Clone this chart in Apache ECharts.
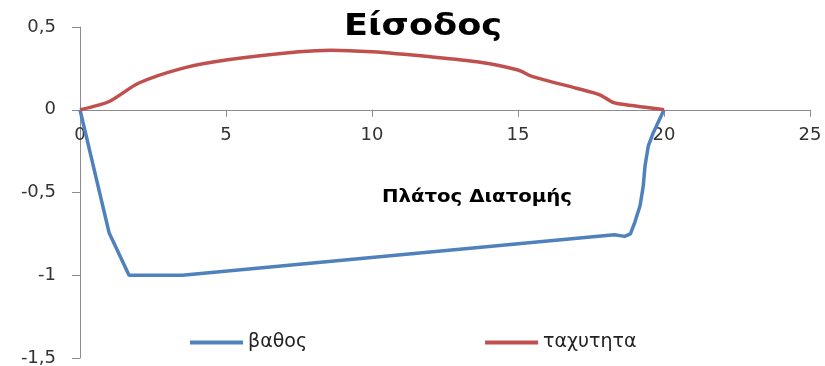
<!DOCTYPE html>
<html>
<head>
<meta charset="utf-8">
<script src="https://cdn.jsdelivr.net/npm/echarts@6/dist/echarts.min.js"></script>
<style>
  html, body { margin: 0; padding: 0; background: #fff; }
  #chart { width: 825px; height: 366px; }
</style>
</head>
<body>
<div id="chart"></div>
<script>
// Cross-section width (m) and the two measured profiles
const depthX = [0, 1, 1.68, 3.5, 18.3, 18.65, 18.85, 19.0, 19.18, 19.29, 19.35, 19.46, 19.63, 20];
const depthY = [0, -0.745, -1.0, -1.0, -0.755, -0.765, -0.75, -0.68, -0.58, -0.46, -0.34, -0.22, -0.14, 0];

const velX = [0, 1, 2, 3.5, 5, 7.5, 8.6, 10, 12, 13.6, 15, 15.5, 17, 17.8, 18.25, 18.7, 20];
const velY = [0, 0.05, 0.16, 0.25, 0.30, 0.35, 0.36, 0.35, 0.32, 0.29, 0.24, 0.20, 0.13, 0.09, 0.045, 0.03, 0];

const seriesNames = ['βαθος', 'ταχυτητα'];
const titleText = 'Είσοδος';
const xAxisTitle = 'Πλάτος Διατομής';

const yMin = -1.5, yMax = 0.5, yStep = 0.5;
const xMin = 0, xMax = 25, xStep = 5;

const FONT = '"DejaVu Sans", sans-serif';
const pairs = (xs, ys) => xs.map((x, i) => [x, ys[i]]);

const W = 825, H = 366;
const grid = { left: 80, right: 15, top: 27, bottom: 8 };
const plotH = H - grid.top - grid.bottom;
// the width axis runs along the zero line of the vertical axis
const xAxisOffset = -plotH * (0 - yMin) / (yMax - yMin);

const chart = echarts.init(document.getElementById('chart'));
chart.setOption({
  animation: false,
  backgroundColor: '#ffffff',
  legend: {
    bottom: 9, left: 185,
    itemWidth: 53, itemHeight: 4, itemGap: 178,
    icon: 'rect',
    textStyle: { fontFamily: FONT, fontSize: 19, color: '#222' },
    data: seriesNames
  },
  grid: Object.assign({ outerBoundsMode: 'none', containLabel: false }, grid),
  xAxis: {
    type: 'value', min: xMin, max: xMax, interval: xStep,
    position: 'bottom', offset: xAxisOffset,
    axisLine: { onZero: false, lineStyle: { color: '#8c8c8c', width: 1 } },
    axisTick: { show: true, length: 7, lineStyle: { color: '#8c8c8c' } },
    axisLabel: { margin: 17, fontFamily: FONT, fontSize: 18, color: '#333' },
    splitLine: { show: false }
  },
  yAxis: {
    type: 'value', min: yMin, max: yMax, interval: yStep,
    axisLine: { show: true, onZero: false, lineStyle: { color: '#8c8c8c', width: 1 } },
    axisTick: { show: true, length: 8, lineStyle: { color: '#8c8c8c' } },
    axisLabel: {
      margin: 24, fontFamily: FONT, fontSize: 18, color: '#333',
      formatter: v => String(v).replace('.', ',')
    },
    splitLine: { show: false }
  },
  graphic: [
    {
      type: 'text', x: 423, y: 27, scaleX: 1.17, scaleY: 1,
      style: {
        text: titleText, align: 'center', verticalAlign: 'middle',
        font: 'bold 30px "DejaVu Sans", sans-serif', fill: '#000'
      }
    },
    {
      type: 'text', x: 477, y: 198, scaleX: 1.16, scaleY: 1,
      style: {
        text: xAxisTitle, align: 'center', verticalAlign: 'middle',
        font: 'bold 17px "DejaVu Sans", sans-serif', fill: '#000'
      }
    }
  ],
  series: [
    {
      name: seriesNames[0], type: 'line', data: pairs(depthX, depthY),
      showSymbol: false, smooth: false,
      lineStyle: { color: '#4F81BD', width: 3.5 }, itemStyle: { color: '#4F81BD' }
    },
    {
      name: seriesNames[1], type: 'line', data: pairs(velX, velY),
      showSymbol: false, smooth: 0.25,
      lineStyle: { color: '#C0504D', width: 3.5 }, itemStyle: { color: '#C0504D' }
    }
  ]
});
</script>
</body>
</html>
